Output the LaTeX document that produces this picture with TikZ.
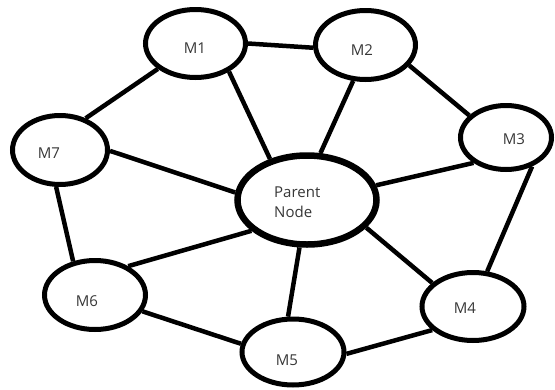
\documentclass[tikz,border=0pt]{standalone}
\usepackage{fontspec}
\setmainfont{Open Sans}
\usetikzlibrary{shapes.geometric}
\definecolor{txt}{RGB}{55,55,55}
\tikzset{
  mem/.style={ellipse, draw=black, line width=5pt, fill=white, inner sep=0pt},
  par/.style={ellipse, draw=black, line width=6.5pt, fill=white, inner sep=0pt},
  lbl/.style={inner sep=0pt, text=txt, font=\fontsize{15}{20}\selectfont},
  link/.style={draw=black, line width=4.5pt}
}
\begin{document}
\begin{tikzpicture}[x=1pt,y=-1pt]
\fill[white] (0,0) rectangle (555,389);
\useasboundingbox (0,0) rectangle (555,389);
% nodes
\node[mem, minimum width=100pt, minimum height=68pt] (m1) at (195.5,43.5) {};
\node[mem, minimum width=100pt, minimum height=69pt] (m2) at (365.5,45) {};
\node[mem, minimum width=91pt, minimum height=64pt] (m3) at (506,137.5) {};
\node[mem, minimum width=95pt, minimum height=69pt] (m7) at (60,150) {};
\node[par, minimum width=139pt, minimum height=89pt] (p) at (307,200) {};
\node[mem, minimum width=101pt, minimum height=69pt] (m6) at (95,295) {};
\node[mem, minimum width=102pt, minimum height=66pt] (m5) at (293,352) {};
\node[mem, minimum width=102pt, minimum height=68pt] (m4) at (473,306.5) {};
% edges
\draw[link] (m1.0) -- (m2.183);
\draw[link] (m1.-40) -- (p.132);
\draw[link] (m1.214) -- (m7.51);
\draw[link] (m2.251) -- (p.74);
\draw[link] (m2.-25) -- (m3.149);
\draw[link] (m3.218) -- (p.12);
\draw[link] (m3.-48) -- (m4.68);
\draw[link] (m7.-1) -- (p.174);
\draw[link] (m7.264) -- (m6.123);
\draw[link] (m6.41) -- (p.209);
\draw[link] (m6.-19) -- (m5.171);
\draw[link] (m5.98) -- (p.261);
\draw[link] (m5.-2) -- (m4.210);
\draw[link] (m4.150) -- (p.-25);
% labels
\node[lbl] (l1) at (195,48) {M1};
\node[lbl] (l2) at (362,50) {M2};
\node[lbl] (l3) at (514,139) {M3};
\node[lbl] (l7) at (49,153) {M7};
\node[lbl, anchor=west] (lp1) at (274,192) {Parent};
\node[lbl, anchor=west] (lp2) at (274,212) {Node};
\node[lbl] (l6) at (87,301) {M6};
\node[lbl] (l5) at (287,360) {M5};
\node[lbl] (l4) at (465,308) {M4};
\end{tikzpicture}
\end{document}
